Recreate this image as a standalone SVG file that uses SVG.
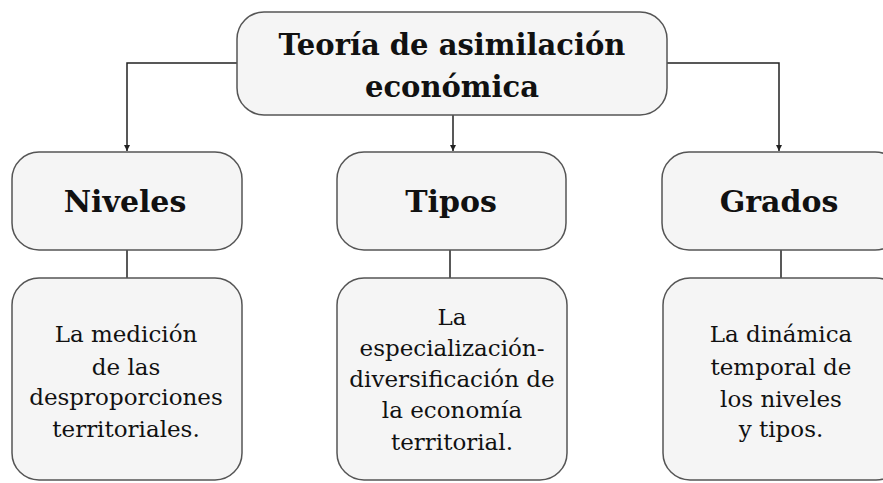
<svg xmlns="http://www.w3.org/2000/svg" width="883" height="483" viewBox="0 0 883 483">
<defs>
<marker id="arr" viewBox="0 0 10 10" refX="10" refY="5" markerWidth="6" markerHeight="6" orient="auto" markerUnits="userSpaceOnUse">
<path d="M0,0 L10,5 L0,10 z" fill="#222"/>
</marker>
<style>
.box{fill:#f5f5f5;stroke:#555;stroke-width:1.5}
.ln{fill:none;stroke:#222;stroke-width:1.5}
.t{font-family:"DejaVu Serif","Liberation Serif",serif;fill:#111;text-anchor:middle}
.h{font-weight:bold;font-size:29px}
.h2{font-weight:bold;font-size:30px}
.b{font-size:23px}
</style>
</defs>
<rect width="883" height="483" fill="#fff"/>
<g id="connectors">
<path class="ln" d="M237,63 H127 V151" marker-end="url(#arr)"/>
<path class="ln" d="M453,115 V151" marker-end="url(#arr)"/>
<path class="ln" d="M667,63 H779 V151" marker-end="url(#arr)"/>
<path class="ln" d="M127,250 V278"/>
<path class="ln" d="M450,250 V278"/>
<path class="ln" d="M781,250 V278"/>
</g>
<g id="root">
<rect class="box" x="237" y="12" width="430" height="103" rx="27"/>
<text class="t h" x="452" y="55">Teoría de asimilación</text>
<text class="t h" x="452" y="97">económica</text>
</g>
<g id="niveles">
<rect class="box" x="12" y="152" width="230" height="98" rx="27"/>
<text class="t h2" x="125" y="212">Niveles</text>
</g>
<g id="tipos">
<rect class="box" x="337" y="152" width="229" height="98" rx="27"/>
<text class="t h2" x="451" y="212">Tipos</text>
</g>
<g id="grados">
<rect class="box" x="662" y="152" width="240" height="98" rx="27"/>
<text class="t h2" x="779" y="212">Grados</text>
</g>
<g id="niveles-desc">
<rect class="box" x="12" y="278" width="230" height="202" rx="27"/>
<text class="t b" x="126" y="342">La medición</text>
<text class="t b" x="126" y="375">de las</text>
<text class="t b" x="126" y="405">desproporciones</text>
<text class="t b" x="126" y="437">territoriales.</text>
</g>
<g id="tipos-desc">
<rect class="box" x="337" y="278" width="230" height="202" rx="27"/>
<text class="t b" x="452" y="325">La</text>
<text class="t b" x="452" y="356">especialización-</text>
<text class="t b" x="452" y="387">diversificación de</text>
<text class="t b" x="452" y="418">la economía</text>
<text class="t b" x="452" y="450">territorial.</text>
</g>
<g id="grados-desc">
<rect class="box" x="663" y="278" width="240" height="202" rx="27"/>
<text class="t b" x="781" y="342">La dinámica</text>
<text class="t b" x="781" y="375">temporal de</text>
<text class="t b" x="781" y="407">los niveles</text>
<text class="t b" x="781" y="437">y tipos.</text>
</g>
</svg>
